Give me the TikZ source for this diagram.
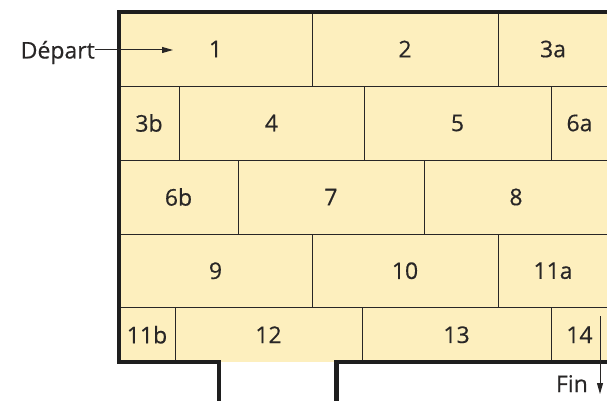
\documentclass[tikz,border=0pt]{standalone}
\usepackage{fontspec}
\setmainfont{Open Sans}
\newfontfamily\labfont{Open Sans}[BoldFont={Open Sans}, BoldFeatures={FakeBold=0.4}]
\usetikzlibrary{arrows.meta}
\definecolor{brickfill}{RGB}{253,239,190}
\definecolor{ink}{RGB}{40,38,38}
\definecolor{wallc}{RGB}{30,30,30}
\tikzset{
  brick/.style={fill=brickfill, draw=ink, line width=0.9pt, inner sep=0pt, outer sep=0pt,
    text=ink, font=\labfont\bfseries\fontsize{23}{23}\selectfont},
  opening/.style={brick, draw=none},
  wall/.style={draw=wallc, line width=4.5pt, line join=miter},
  lbl/.style={font=\labfont\bfseries\fontsize{23}{23}\selectfont, text=ink, inner sep=0pt},
  pointer/.style={draw=ink, line width=1pt, -{Triangle[length=11pt,width=6pt]}}
}
\newcommand\brk[7][brick]{\node[#1, minimum width={(#4-#3)*1pt}, minimum height={(#6-#5)*1pt}] (#2) at ({(#3+#4)/2},{(#5+#6)/2}) {#7};}
\begin{document}
\begin{tikzpicture}[x=1pt,y=-1pt]
\useasboundingbox (0,0) rectangle (607,401);
\begin{scope}
\clip (0,0) rectangle (607,401);
% opening brick first (no border of its own)
\brk[opening]{b12}{175}{362}{307.5}{362}{12}
% row 1
\brk{b1}{119}{312}{12}{86}{1}
\brk{b2}{312}{498}{12}{86}{2}
\brk{b3a}{498}{608}{12}{86}{3a}
% row 2
\brk{b3b}{119}{179}{86}{160}{3b}
\brk{b4}{179}{364}{86}{160}{4}
\brk{b5}{364}{551}{86}{160}{5}
\brk{b6a}{551}{608}{86}{160}{6a}
% row 3
\brk{b6b}{119}{238}{160}{234}{6b}
\brk{b7}{238}{424}{160}{234}{7}
\brk{b8}{424}{608}{160}{234}{8}
% row 4
\brk{b9}{119}{312}{234}{307.5}{9}
\brk{b10}{312}{498}{234}{307.5}{10}
\brk{b11a}{498}{608}{234}{307.5}{11a}
% row 5
\brk{b11b}{119}{175}{307.5}{362}{11b}
\brk{b13}{362}{551}{307.5}{362}{13}
\brk{b14}{551}{608}{307.5}{362}{14}
% walls
\draw[wall] (610,12) -- (119,12) -- (119,362) -- (219,362) -- (219,405);
\draw[wall] (336.5,405) -- (336.5,362) -- (610,362);
% start
\node[lbl, anchor=base east] (depart) at (95,58.5) {Départ};
\coordinate (departend) at (173,50);
\draw[pointer] (depart.east |- departend) -- (departend);
% end
\node[lbl, anchor=base east] (fin) at (588,392) {Fin};
\coordinate (finstart) at (600,316);
\coordinate (finend) at (600,394);
\draw[pointer] (finstart) -- (finend);
\end{scope}
\end{tikzpicture}
\end{document}
